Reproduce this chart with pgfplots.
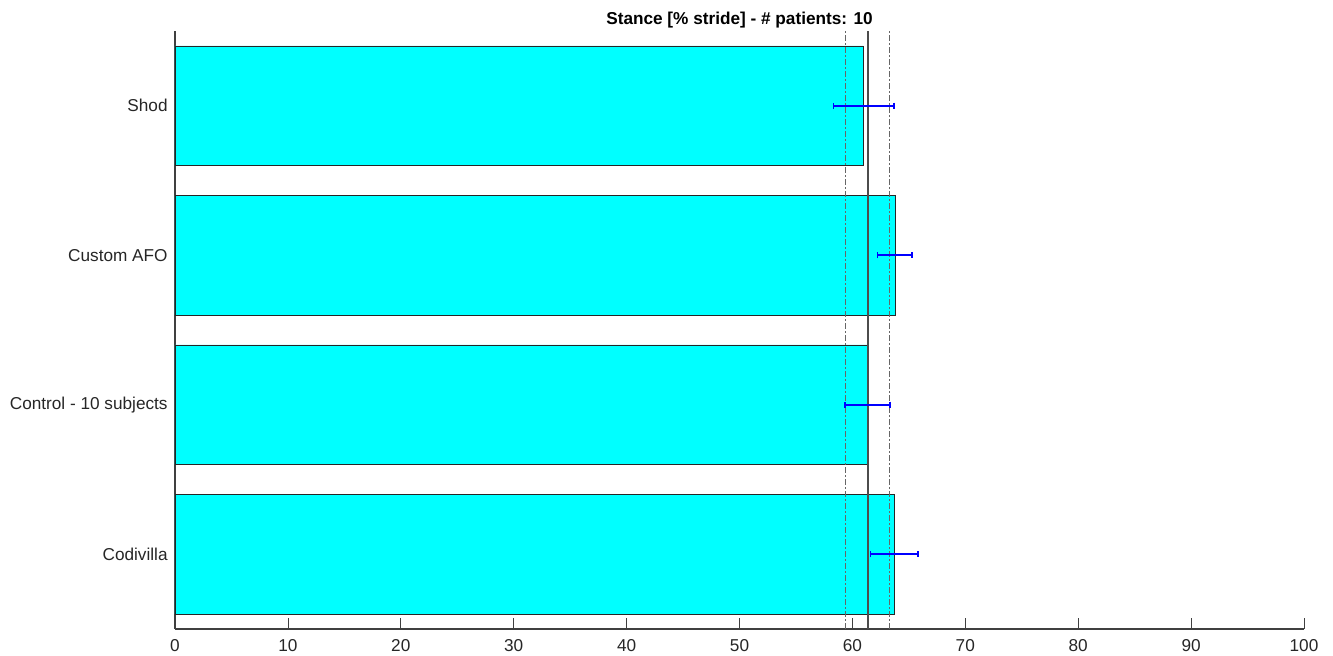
\documentclass[border=0pt]{standalone}
\usepackage{fontspec}
\setmainfont{Liberation Sans}
\usepackage{pgfplots}
\pgfplotsset{compat=1.18}
\definecolor{barcyan}{RGB}{0,255,255}
\definecolor{axgray}{RGB}{64,64,64}
\begin{document}
\begin{tikzpicture}
\path[use as bounding box] (0,0) rectangle (666.5pt,328pt);
\begin{axis}[
  at={(87.5pt,13.5pt)}, anchor=south west,
  scale only axis, width=564.5pt, height=299pt,
  xmin=0, xmax=100, ymin=0.5, ymax=4.5,
  axis x line*=bottom, axis y line*=left,
  axis line style={axgray, line width=0.6pt, -},
  xtick={0,10,...,100},
  ytick={1,2,3,4},
  yticklabels={Codivilla, Control - 10 subjects, Custom AFO, Shod},
  tick align=inside,
  major tick length=5.6pt,
  x tick style={axgray, line width=0.4pt},
  y tick style={draw=none},
  font=\fontsize{8.6}{10}\selectfont,
  tick label style={font=\fontsize{8.6}{10}\selectfont, text=black!85},
  /pgf/number format/assume math mode=true,
  xticklabel style={anchor=north, inner sep=0pt, yshift=-5pt},
  yticklabel style={anchor=east, inner sep=0pt, xshift=-3.5pt},
  clip=false,
]
\addplot[xbar, bar width=0.8, fill=barcyan, draw=black!85, line width=0.4pt] coordinates {
  (63.72,1) (61.33,2) (63.78,3) (60.97,4)
};
\addplot[black!60, line width=0.5pt, dash pattern=on 3pt off 1.2pt on 0.6pt off 1.2pt] coordinates {(59.42,0.5) (59.42,4.5)};
\addplot[black!60, line width=0.5pt, dash pattern=on 3pt off 1.2pt on 0.6pt off 1.2pt] coordinates {(63.27,0.5) (63.27,4.5)};
\addplot[black!70, line width=1.1pt] coordinates {(61.36,0.5) (61.36,4.5)};
\addplot[draw=none, mark=none,
  error bars/.cd, x dir=both, x explicit,
  error bar style={draw=blue, line width=0.8pt, solid},
  error mark options={draw=blue, line width=0.8pt, mark size=1.6pt, rotate=90}]
  coordinates {
  (63.70,1) +- (2.11,0)
  (61.35,2) +- (1.98,0)
  (63.75,3) +- (1.54,0)
  (61.00,4) +- (2.69,0)
};
\node[anchor=base, inner sep=0pt, font=\fontsize{8.6}{10}\selectfont\bfseries] at (rel axis cs:0.5,1) [yshift=3.2pt] {Stance [\% stride] - \# patients: 10};
\end{axis}
\end{tikzpicture}
\end{document}
